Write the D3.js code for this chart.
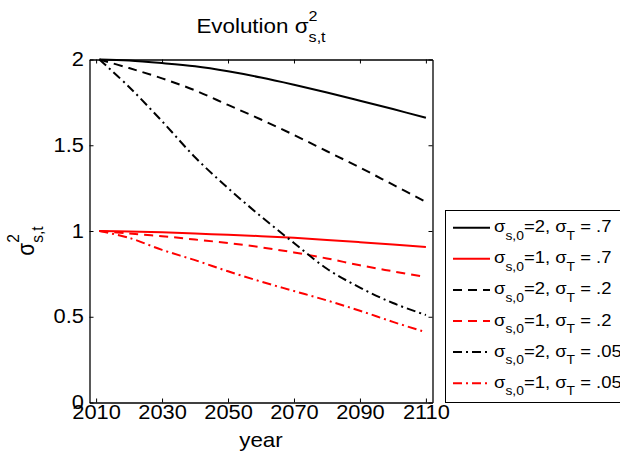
<!DOCTYPE html>
<html><head><meta charset="utf-8">
<script src="https://cdn.jsdelivr.net/npm/d3@7"></script>
<style>
body{margin:0;background:#fff}
text{font-family:"Liberation Sans",Arial,Helvetica,sans-serif;fill:#000;white-space:pre}
</style>
</head><body>
<svg id="chart" width="620" height="457"></svg>
<script>
// Years sampled along each trajectory
const years = [2011, 2020, 2030, 2040, 2050, 2060, 2070, 2080, 2090, 2100, 2110];

// Variance sigma^2_{s,t} for each (sigma_{s,0}, sigma_T) combination
const s2_T07 = [2.00, 1.994, 1.979, 1.960, 1.931, 1.895, 1.853, 1.808, 1.760, 1.711, 1.660];
const s1_T07 = [1.00, 0.997, 0.992, 0.985, 0.978, 0.970, 0.960, 0.948, 0.935, 0.921, 0.906];
const s2_T02 = [2.00, 1.95, 1.89, 1.82, 1.735, 1.65, 1.56, 1.465, 1.37, 1.27, 1.17];
const s1_T02 = [1.00, 0.985, 0.970, 0.950, 0.930, 0.905, 0.875, 0.840, 0.800, 0.765, 0.731];
const s2_T005 = [2.00, 1.84, 1.64, 1.43, 1.25, 1.085, 0.93, 0.78, 0.67, 0.58, 0.51];
const s1_T005 = [1.00, 0.96, 0.89, 0.83, 0.765, 0.705, 0.65, 0.595, 0.535, 0.47, 0.41];

const xTicks = [2010, 2030, 2050, 2070, 2090, 2110];
const yTicks = [0, 0.5, 1, 1.5, 2];

const seriesS0 = ["2", "1", "2", "1", "2", "1"];
const seriesT = [".7", ".7", ".2", ".2", ".05", ".05"];
const seriesValues = [s2_T07, s1_T07, s2_T02, s1_T02, s2_T005, s1_T005];
const seriesColor = ["#000000", "#ff0000", "#000000", "#ff0000", "#000000", "#ff0000"];
const seriesDash = [null, null, "9,6", "9,6", "9,4,2,4", "9,4,2,4"];

const SX = 1.12;          // horizontal glyph stretch
const tickFont = 19.5;

const svg = d3.select("#chart");
svg.append("rect").attr("width", 620).attr("height", 457).attr("fill", "#fff");

const x = d3.scaleLinear().domain([2008, 2112]).range([89.5, 432.5]);
const y = d3.scaleLinear().domain([0, 2]).range([402.5, 59.5]);

// Curves
const line = d3.line().x((d, i) => x(years[i])).y(d => y(d)).curve(d3.curveCatmullRom.alpha(0.5));
seriesValues.forEach((vals, k) => {
  svg.append("path")
    .attr("d", line(vals))
    .attr("fill", "none")
    .attr("stroke", seriesColor[k])
    .attr("stroke-width", 2)
    .attr("stroke-dasharray", seriesDash[k]);
});

// Axes with inward ticks on all four sides
function styleAxis(g) {
  g.selectAll("path.domain").attr("stroke", "#000").attr("stroke-width", 1.3);
  g.selectAll(".tick line").attr("stroke", "#000").attr("stroke-width", 1);
  g.selectAll("text").attr("font-size", tickFont).attr("fill", "#000")
    .attr("font-family", '"Liberation Sans",Arial,sans-serif');
}
const gx = svg.append("g").attr("transform", "translate(0,402.5)")
  .call(d3.axisBottom(x).tickValues(xTicks).tickFormat(d3.format("d")).tickSizeInner(-4).tickSizeOuter(0).tickPadding(2.5));
styleAxis(gx);
gx.selectAll("text").attr("transform", `scale(${SX},1)`);

const gy = svg.append("g").attr("transform", "translate(89.5,0)")
  .call(d3.axisLeft(y).tickValues(yTicks).tickFormat(d => d3.format("")(d)).tickSizeInner(-4).tickSizeOuter(0).tickPadding(5));
styleAxis(gy);
gy.selectAll("text").attr("transform", `scale(${SX},1)`);

const gt = svg.append("g").attr("transform", "translate(0,59.5)")
  .call(d3.axisTop(x).tickValues(xTicks).tickFormat("").tickSizeInner(-4).tickSizeOuter(0));
styleAxis(gt);
const gr = svg.append("g").attr("transform", "translate(432.5,0)")
  .call(d3.axisRight(y).tickValues(yTicks).tickFormat("").tickSizeInner(-4).tickSizeOuter(0));
styleAxis(gr);

// Text runs with subscripts / stacked super+subscripts
function richText(parent, parts, size, transform, opts = {}) {
  const supUp = opts.supUp ?? 0.58, subDown = opts.subDown ?? 0.45, scr = opts.scr ?? 0.72;
  const g = parent.append("g").attr("transform", transform);
  let cx = 0;
  parts.forEach(p => {
    if (p.sup !== undefined || p.sub !== undefined) {
      let w = 0;
      if (p.sup !== undefined) {
        const t = g.append("text").attr("x", cx).attr("y", -size * supUp)
          .attr("font-size", size * scr).text(p.sup);
        w = Math.max(w, t.node().getComputedTextLength());
      }
      if (p.sub !== undefined) {
        const t = g.append("text").attr("x", cx).attr("y", size * subDown)
          .attr("font-size", size * scr).text(p.sub);
        w = Math.max(w, t.node().getComputedTextLength());
      }
      cx += w;
    } else {
      const t = g.append("text").attr("x", cx).attr("y", 0).attr("font-size", size).text(p.t);
      cx += t.node().getComputedTextLength();
    }
  });
  return { g, width: cx };
}

// Title
const tt = richText(svg, [{ t: "Evolution σ" }, { sup: "2", sub: "s,t" }], 20, "translate(0,33)");
tt.g.attr("transform", `translate(${261 - tt.width * SX / 2},33) scale(${SX},1)`);

// x label
const xl = richText(svg, [{ t: "year" }], 20, "translate(0,447)");
xl.g.attr("transform", `translate(${261 - xl.width * SX / 2},447) scale(${SX},1)`);

// y label
const yl = richText(svg, [{ t: "σ" }, { sup: "2", sub: "s,t" }], 21, "translate(0,0)",
  { supUp: 0.62, subDown: 0.4, scr: 0.74 });
yl.g.attr("transform", `translate(34,${241 + yl.width / 2}) scale(${SX},1) rotate(-90)`);

// Legend
const legend = svg.append("g");
legend.append("rect").attr("x", 445.5).attr("y", 210.5).attr("width", 240).attr("height", 192)
  .attr("fill", "#fff").attr("stroke", "#000").attr("stroke-width", 1);
seriesValues.forEach((vals, k) => {
  const cy = 227.7 + k * 31.1;
  legend.append("line").attr("x1", 453).attr("x2", 490).attr("y1", cy).attr("y2", cy)
    .attr("stroke", seriesColor[k]).attr("stroke-width", 2)
    .attr("stroke-dasharray", seriesDash[k]);
  richText(legend, [
    { t: "σ" }, { sub: "s,0" }, { t: `=${seriesS0[k]}, σ` }, { sub: "T" }, { t: ` = ${seriesT[k]}` }
  ], 16.5, `translate(494,${cy + 4.5}) scale(${SX},1)`, { subDown: 0.47, scr: 0.75 });
});
</script>
</body></html>
